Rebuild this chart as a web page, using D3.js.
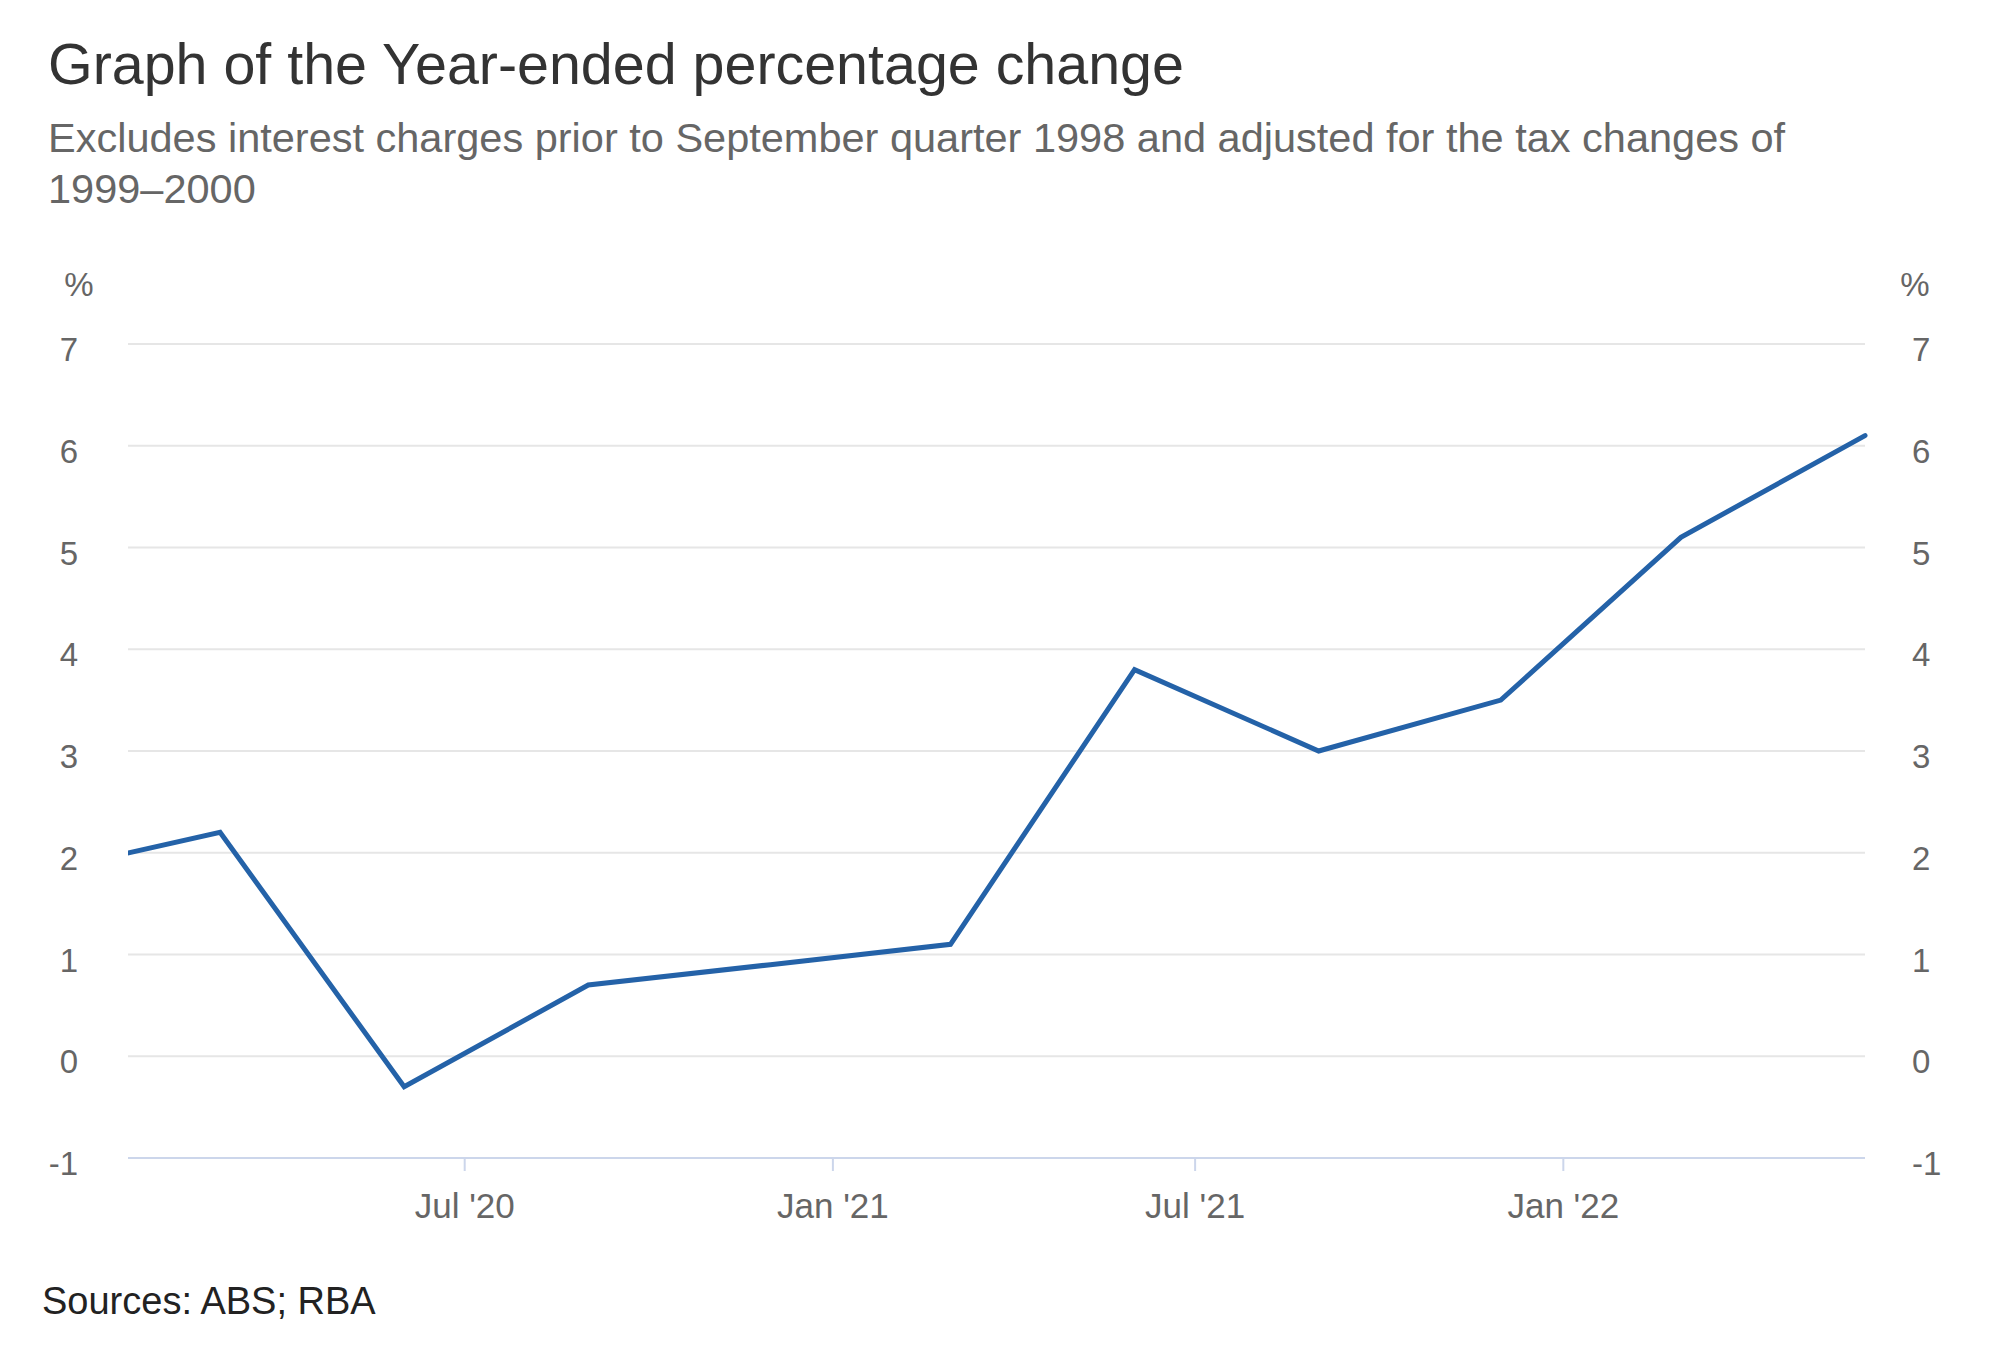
<!DOCTYPE html>
<html>
<head>
<meta charset="utf-8">
<script src="https://cdn.jsdelivr.net/npm/d3@7"></script>
<style>
  html, body { margin: 0; padding: 0; background: #fff; }
  svg { display: block; font-family: "Liberation Sans", Arial, sans-serif; }
</style>
</head>
<body>
<svg id="chart" width="2010" height="1352"></svg>
<script>
// ---- Data ----
const quarters = ["2019-12-01","2020-03-01","2020-06-01","2020-09-01","2020-12-01","2021-03-01","2021-06-01","2021-09-01","2021-12-01","2022-03-01","2022-06-01"];
const values = [1.8, 2.2, -0.3, 0.7, 0.9, 1.1, 3.8, 3.0, 3.5, 5.1, 6.1];
const yTicks = [-1, 0, 1, 2, 3, 4, 5, 6, 7];
const xTickDates = ["2020-07-01","2021-01-01","2021-07-01","2022-01-01"];
const xTickLabels = ["Jul '20","Jan '21","Jul '21","Jan '22"];
const xDomain = ["2020-01-15","2022-06-01"];
const titleText = "Graph of the Year-ended percentage change";
const subtitleLines = ["Excludes interest charges prior to September quarter 1998 and adjusted for the tax changes of", "1999\u20132000"];
const sourceText = "Sources: ABS; RBA";

(function () {
const parse = d3.utcParse("%Y-%m-%d");
const data = quarters.map((q, i) => ({ date: parse(q), value: values[i] }));

const svg = d3.select("#chart");
const pLeft = 128, pRight = 1865, pTop = 344, pBottom = 1158;
const fam = "Liberation Sans, Arial, sans-serif";

const x = d3.scaleUtc().domain(xDomain.map(parse)).range([pLeft, pRight]);
const y = d3.scaleLinear().domain([-1, 7]).range([pBottom, pTop]);

// Title & subtitle
svg.append("text").attr("x", 48).attr("y", 84)
  .attr("font-size", 57.4).attr("fill", "#333").text(titleText);
subtitleLines.forEach((t, i) => {
  svg.append("text").attr("x", 48).attr("y", 152 + i * 51)
    .attr("font-size", 41.5).attr("fill", "#666").text(t);
});

// Grid lines
const grid = svg.append("g");
yTicks.filter(t => t !== -1).forEach(t => {
  grid.append("line").attr("x1", pLeft).attr("x2", pRight)
    .attr("y1", y(t)).attr("y2", y(t))
    .attr("stroke", "#e6e6e6").attr("stroke-width", 2);
});

// Bottom axis line & ticks
svg.append("line").attr("x1", pLeft).attr("x2", pRight)
  .attr("y1", y(-1)).attr("y2", y(-1))
  .attr("stroke", "#ccd6eb").attr("stroke-width", 2);

const xAxis = d3.axisBottom(x)
  .tickValues(xTickDates.map(parse))
  .tickFormat((d, i) => xTickLabels[i])
  .tickSize(13).tickPadding(22);
const gx = svg.append("g").attr("transform", `translate(0,${pBottom})`).call(xAxis);
gx.select(".domain").remove();
gx.selectAll(".tick line").attr("stroke", "#ccd6eb").attr("stroke-width", 2);
gx.selectAll(".tick text").attr("font-size", 35).attr("fill", "#666")
  .attr("font-family", fam);

// Y axes (left & right)
const fmtY = d => (d < 0 ? "-" + Math.abs(d) : String(d));
const yLeft = d3.axisLeft(y).tickValues(yTicks).tickFormat(fmtY).tickSize(0).tickPadding(50);
const gyl = svg.append("g").attr("transform", `translate(${pLeft},0)`).call(yLeft);
gyl.select(".domain").remove();
gyl.selectAll(".tick text").attr("font-size", 33).attr("fill", "#666")
  .attr("font-family", fam).attr("dy", "0.5em");

const yRight = d3.axisRight(y).tickValues(yTicks).tickFormat(fmtY).tickSize(0).tickPadding(47);
const gyr = svg.append("g").attr("transform", `translate(${pRight},0)`).call(yRight);
gyr.select(".domain").remove();
gyr.selectAll(".tick text").attr("font-size", 33).attr("fill", "#666")
  .attr("font-family", fam).attr("dy", "0.5em");

// % unit labels
svg.append("text").attr("x", 79).attr("y", 296).attr("text-anchor", "middle")
  .attr("font-size", 33).attr("fill", "#666").text("%");
svg.append("text").attr("x", 1915).attr("y", 296).attr("text-anchor", "middle")
  .attr("font-size", 33).attr("fill", "#666").text("%");

// Line (clipped to plot area)
svg.append("clipPath").attr("id", "clip").append("rect")
  .attr("x", pLeft).attr("y", 0).attr("width", pRight - pLeft + 4).attr("height", 1352);
const line = d3.line().x(d => x(d.date)).y(d => y(d.value));
svg.append("path").datum(data).attr("d", line)
  .attr("clip-path", "url(#clip)")
  .attr("fill", "none").attr("stroke", "#2462a8").attr("stroke-width", 5)
  .attr("stroke-linejoin", "miter").attr("stroke-linecap", "round");

// Source
svg.append("text").attr("x", 42).attr("y", 1314)
  .attr("font-size", 38).attr("fill", "#222").text(sourceText);
})();
</script>
</body>
</html>
